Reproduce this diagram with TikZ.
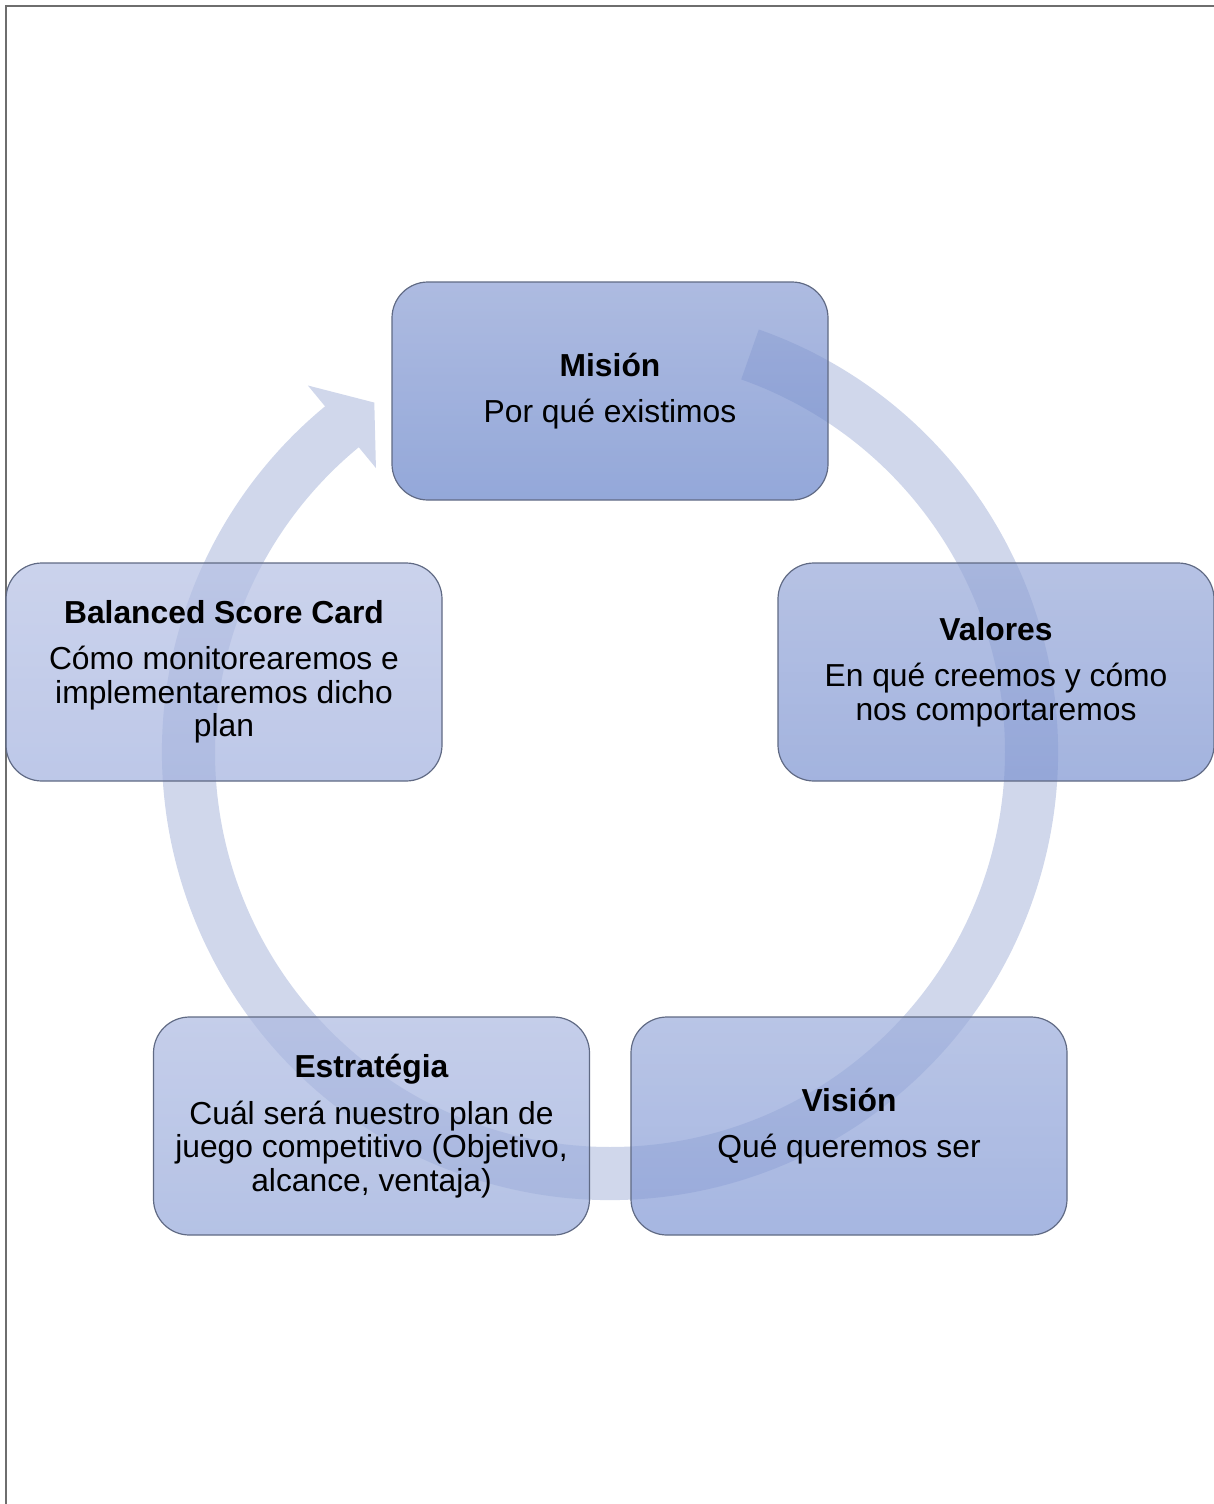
\documentclass[tikz,border=0pt]{standalone}
\usepackage{fontspec}
\setmainfont{Liberation Sans}
\usepackage{tikz}
\usetikzlibrary{calc}
\definecolor{colorRing}{RGB}{208,215,235}
\definecolor{colorLine}{RGB}{96,106,132}
\definecolor{colorPage}{RGB}{110,110,110}
\definecolor{misionTop}{RGB}{139,158,212}
\definecolor{misionBot}{RGB}{102,131,201}
\definecolor{valoresTop}{RGB}{151,168,216}
\definecolor{valoresBot}{RGB}{124,147,209}
\definecolor{visionTop}{RGB}{155,172,219}
\definecolor{visionBot}{RGB}{128,151,212}
\definecolor{estrategiaTop}{RGB}{172,185,225}
\definecolor{estrategiaBot}{RGB}{149,168,218}
\definecolor{bscTop}{RGB}{181,192,228}
\definecolor{bscBot}{RGB}{161,176,222}
\tikzset{cyclebox/.style={rectangle, rounded corners=18pt, draw=colorLine, line width=0.6pt,
    minimum width=218pt, minimum height=109pt, inner sep=0pt, align=center,
    fill opacity=0.7, draw opacity=1, text opacity=1,
    font=\fontsize{15.9}{16.75}\selectfont}}

\begin{document}
\begin{tikzpicture}[x=0.5pt, y=0.5pt]
\useasboundingbox (0,0) rectangle (1214,-1504);
% page frame
\draw[colorPage, line width=0.7pt] (1214,-6) -- (6,-6) -- (6,-1504);
% cycle arrow
\coordinate (hub) at (610,-752);
\fill[colorRing] (hub) ++(70.6:448) arc[start angle=70.6, end angle=-230.5, radius=224pt]
  -- ($(hub)+(-230.5:475)$) -- ($(hub)+(-236:421.5)$) -- ($(hub)+(-230.5:368)$)
  -- ($(hub)+(-230.5:395)$) arc[start angle=-230.5, end angle=70.6, radius=197.5pt] -- cycle;
% steps
\node[cyclebox, top color=misionTop, bottom color=misionBot] (mision) at (610,-391)
  {\textbf{Misión}\\[6.5pt]Por qué existimos};
\node[cyclebox, top color=valoresTop, bottom color=valoresBot] (valores) at (996,-672)
  {\textbf{Valores}\\[6.5pt]En qué creemos y cómo\\nos comportaremos};
\node[cyclebox, top color=visionTop, bottom color=visionBot] (vision) at (849,-1126)
  {\textbf{Visión}\\[6.5pt]Qué queremos ser};
\node[cyclebox, top color=estrategiaTop, bottom color=estrategiaBot] (estrategia) at (371.5,-1126)
  {\textbf{Estratégia}\\[6.5pt]Cuál será nuestro plan de\\juego competitivo (Objetivo,\\alcance, ventaja)};
\node[cyclebox, top color=bscTop, bottom color=bscBot] (bsc) at (224,-672)
  {\textbf{Balanced Score Card}\\[6.5pt]Cómo monitorearemos e\\implementaremos dicho\\plan};
\end{tikzpicture}
\end{document}
